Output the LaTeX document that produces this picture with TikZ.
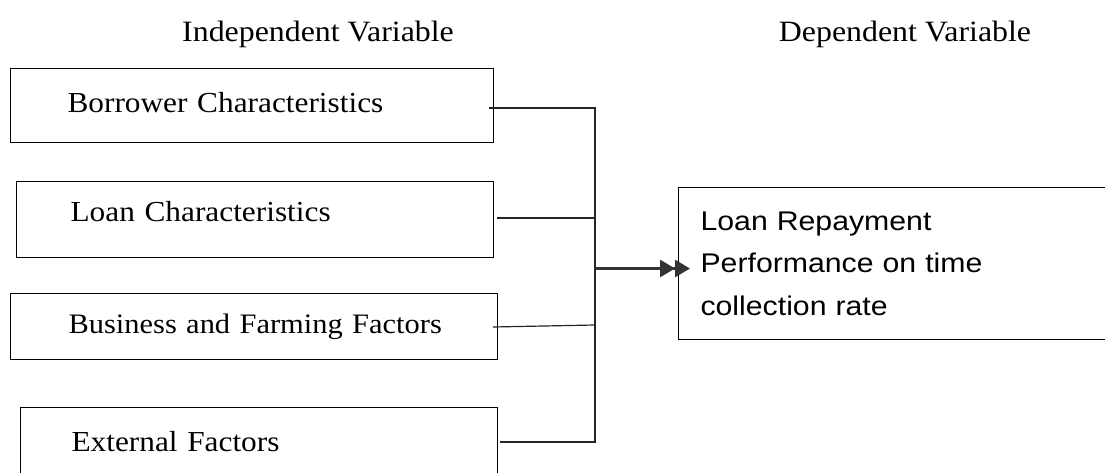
\documentclass[tikz,border=0pt]{standalone}
\usepackage{fontspec}
\setmainfont{Liberation Serif}[FakeStretch=1.08]
\newfontfamily\dvsans{Liberation Sans}[FakeStretch=1.12]
\usetikzlibrary{arrows.meta}
\begin{document}
\begin{tikzpicture}[x=1pt,y=-1pt,
  ivbox/.style={draw, line width=1.1pt, anchor=north west, inner ysep=0pt,
    align=left, text height=20pt, text depth=6pt,
    font=\fontsize{29}{35}\selectfont},
  dvbox/.style={draw, line width=1.1pt, anchor=north west, inner ysep=0pt,
    align=left, minimum height=152pt,
    font=\dvsans\fontsize{27}{42.5}\selectfont},
  heading/.style={anchor=base, inner sep=0pt, font=\fontsize{29.5}{35}\selectfont},
  link/.style={line width=1.2pt, draw=black!85},
  merge/.style={line width=2.8pt, draw=black!80,
    -{Triangle[length=15pt,width=17pt]Triangle[length=15pt,width=17pt]}}
]
\useasboundingbox (0,0) rectangle (1105,473);
\clip (0,0) rectangle (1105,473);

% column headings
\node[heading] (hiv) at (318,42) {Independent Variable};
\node[heading] (hdv) at (905,42) {Dependent Variable};

% independent variables
\node[ivbox, inner xsep=57pt, text width=369pt, minimum height=74pt] (b1) at (10,68)
  {\mbox{Borrower Characteristics}};
\node[ivbox, inner xsep=54pt, text width=369pt, minimum height=76pt, text depth=16pt] (b2) at (16,181)
  {\mbox{Loan Characteristics}};
\node[ivbox, inner xsep=58pt, text width=371pt, minimum height=66pt,
      font=\fontsize{28.2}{35}\selectfont] (b3) at (10,293)
  {\mbox{Business and Farming Factors}};
\node[ivbox, inner xsep=51pt, text width=375pt, minimum height=74pt] (b4) at (20,407)
  {\mbox{External Factors}};

% dependent variable
\node[dvbox, inner xsep=22pt, text width=456pt] (dv) at (678,187)
  {Loan Repayment\\Performance on time\\collection rate};

% connector end points
\coordinate (s1) at (489,108);
\coordinate (s2) at (497,218);
\coordinate (s3) at (493,327);
\coordinate (s4) at (500,442);
\coordinate (j1) at (595,108);
\coordinate (j2) at (595,218);
\coordinate (j3) at (595,325);
\coordinate (j4) at (595,442);
\coordinate (jm) at (595,268.5);
\coordinate (tip) at (690,268.5);

\draw[link] (s1) -- (j1) -- (j4) -- (s4);
\draw[link] (s2) -- (j2);
\draw[link] (s3) -- (j3);
\draw[merge] (jm) -- (tip);
\end{tikzpicture}
\end{document}
